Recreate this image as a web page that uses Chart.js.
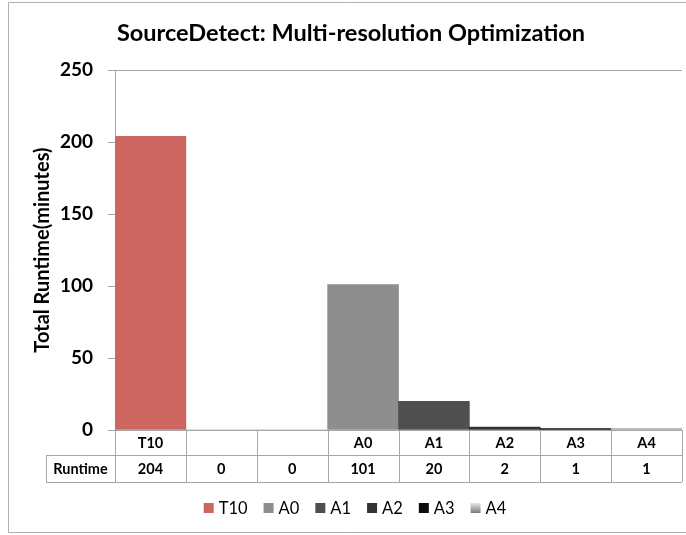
<!DOCTYPE html>
<html>
<head>
<meta charset="utf-8">
<title>SourceDetect: Multi-resolution Optimization</title>
<script src="https://cdn.jsdelivr.net/npm/chart.js@4.4.1/dist/chart.umd.min.js"></script>
<style>
  html, body { margin: 0; padding: 0; background: #fff; }
  #wrap { position: relative; width: 686px; height: 535px; }
</style>
</head>
<body>
<div id="wrap"><canvas id="runtimeChart"></canvas></div>
<script>
// runtime per configuration (minutes)
const categories = ["T10", "", "", "A0", "A1", "A2", "A3", "A4"];
const runtime = [204, 0, 0, 101, 20, 2, 1, 1];
const seriesName = "Runtime";
const yTicks = [0, 50, 100, 150, 200, 250];

const barColors = ["#CD6560", "#CD6560", "#CD6560", "#8E8E8E", "#4F4F4F", "#333333", "#0D0D0D", "#A8A8A8"];

const FONT = "Lato, 'Open Sans', sans-serif";
const LINE = "#A6A6A6";

// A4 uses a light-to-dark gradient swatch
function a4Gradient(ctx, y0, y1) {
  const g = ctx.createLinearGradient(0, y0, 0, y1);
  g.addColorStop(0, "#E6E6E6");
  g.addColorStop(1, "#7A7A7A");
  return g;
}

// outer frame, data table under the plot and the legend
const tablePlugin = {
  id: "dataTable",
  afterDraw(chart) {
    const { ctx, chartArea, scales: { x } } = chart;
    const top = chartArea.bottom;
    const row1 = top + 25;
    const row2 = row1 + 27;
    const labelLeft = 46;
    const half = (x.getPixelForValue(1) - x.getPixelForValue(0)) / 2;
    const edges = categories.map((c, i) => x.getPixelForValue(i) - half);
    edges.push(x.getPixelForValue(categories.length - 1) + half);

    ctx.save();
    // chart frame
    ctx.strokeStyle = "#B0B0B0";
    ctx.lineWidth = 1;
    ctx.beginPath();
    ctx.moveTo(690, 2.5);
    ctx.lineTo(8.5, 2.5);
    ctx.lineTo(8.5, 532.5);
    ctx.lineTo(690, 532.5);
    ctx.stroke();

    ctx.strokeStyle = LINE;
    ctx.beginPath();
    // axis line / table top
    ctx.moveTo(chartArea.left - 7, top + 0.5);
    ctx.lineTo(edges[edges.length - 1], top + 0.5);
    // row separators
    ctx.moveTo(labelLeft, row1 + 0.5);
    ctx.lineTo(edges[edges.length - 1], row1 + 0.5);
    ctx.moveTo(labelLeft, row2 + 0.5);
    ctx.lineTo(edges[edges.length - 1], row2 + 0.5);
    // column lines
    edges.forEach(e => {
      const px = Math.round(e) + 0.5;
      ctx.moveTo(px, top);
      ctx.lineTo(px, row2);
    });
    ctx.moveTo(labelLeft + 0.5, row1);
    ctx.lineTo(labelLeft + 0.5, row2);
    ctx.stroke();

    ctx.fillStyle = "#000";
    ctx.textAlign = "center";
    ctx.textBaseline = "middle";
    ctx.font = "bold 14.5px " + FONT;
    categories.forEach((c, i) => {
      const cx = x.getPixelForValue(i);
      ctx.fillText(c, cx, (top + row1) / 2 + 1);
      ctx.fillText(String(runtime[i]), cx, (row1 + row2) / 2 + 1);
    });
    ctx.fillText(seriesName, (labelLeft + chartArea.left) / 2, (row1 + row2) / 2 + 1);

    // legend: named categories only
    ctx.font = "16.5px " + FONT;
    ctx.textAlign = "left";
    const items = categories.map((c, i) => ({ c, i })).filter(d => d.c !== "");
    const box = 10, gap = 5, spacing = 16;
    const widths = items.map(d => box + gap + ctx.measureText(d.c).width);
    const total = widths.reduce((a, b) => a + b, 0) + spacing * (items.length - 1);
    let lx = 355 - total / 2;
    const ly = 508;
    items.forEach((d, k) => {
      ctx.fillStyle = d.c === "A4" ? a4Gradient(ctx, ly - box / 2, ly + box / 2) : barColors[d.i];
      ctx.fillRect(lx, ly - box / 2, box, box);
      ctx.fillStyle = "#000";
      ctx.fillText(d.c, lx + box + gap, ly + 1);
      lx += widths[k] + spacing;
    });
    ctx.restore();
  }
};

document.addEventListener("DOMContentLoaded", function () {
  const ctx = document.getElementById("runtimeChart").getContext("2d");

  window.runtimeChart = new Chart(ctx, {
    type: "bar",
    data: {
      labels: categories,
      datasets: [{
        label: seriesName,
        data: runtime,
        backgroundColor: barColors,
        borderWidth: 0,
        barPercentage: 1,
        categoryPercentage: 1
      }]
    },
    options: {
      responsive: true,
      maintainAspectRatio: false,
      animation: false,
      layout: { padding: { left: 20, right: 4, top: 0, bottom: 105 } },
      scales: {
        x: { display: false },
        y: {
          min: 0,
          max: 250,
          afterBuildTicks(scale) {
            scale.ticks = yTicks.map(v => ({ value: v }));
          },
          afterFit(scale) {
            scale.width = 95;
          },
          ticks: {
            color: "#000",
            padding: 15,
            font: { family: FONT, size: 19, weight: "bold" }
          },
          grid: {
            drawOnChartArea: true,
            color: c => (c.tick && c.tick.value === 250 ? LINE : "rgba(0,0,0,0)"),
            tickColor: LINE,
            tickLength: 7
          },
          border: { color: LINE },
          title: {
            display: true,
            text: "Total Runtime(minutes)",
            color: "#000",
            padding: { top: 11, bottom: 0 },
            font: { family: FONT, size: 20, weight: "bold" }
          }
        }
      },
      plugins: {
        legend: { display: false },
        tooltip: { enabled: false },
        title: {
          display: true,
          text: "SourceDetect: Multi-resolution Optimization",
          color: "#000",
          padding: { top: 19, bottom: 23 },
          font: { family: FONT, size: 23.5, weight: "bold" }
        }
      }
    },
    plugins: [tablePlugin]
  });
});
</script>
</body>
</html>
